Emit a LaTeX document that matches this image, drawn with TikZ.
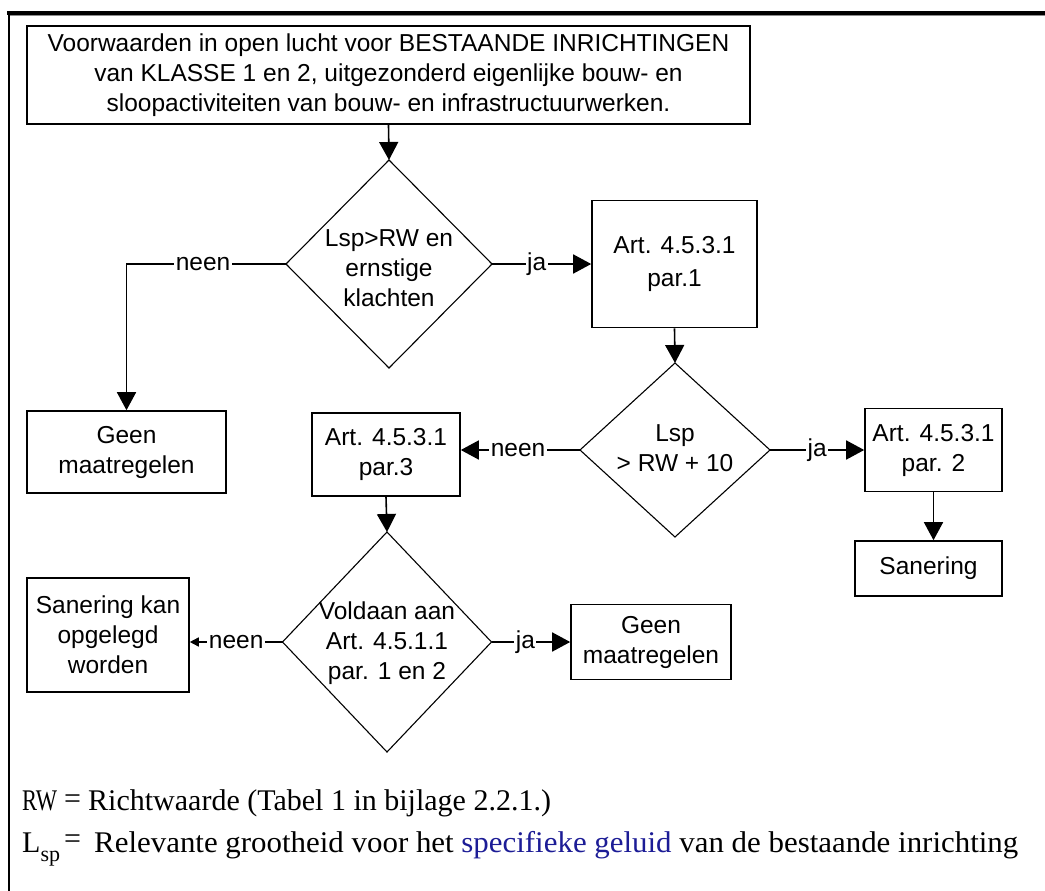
\documentclass[tikz,border=0pt]{standalone}
\usepackage{fontspec}
\setmainfont{Liberation Sans}
\newfontfamily\legendfont{Liberation Serif}
\usepackage{xcolor}
\usetikzlibrary{arrows.meta, shapes.geometric}

\begin{document}
\begin{tikzpicture}[
    x=1pt, y=-1pt,
    every node/.style={font=\fontsize{24.5}{30}\selectfont, align=center, text=black},
    box/.style={
      rectangle, draw=black, fill=white, line width=1.6pt, inner sep=0pt
    },
    decision/.style={
      diamond, draw=black, line width=1.1pt, inner sep=0pt, outer sep=0pt
    },
    lbl/.style={fill=white, inner sep=1.5pt},
    legend/.style={font=\legendfont\fontsize{30}{34}\selectfont, anchor=base west, inner sep=0pt},
    arr/.style={-{Triangle[length=18pt, width=19pt]}, draw=black, line width=1.6pt},
    arrSmall/.style={-{Triangle[length=9pt, width=9pt]}, draw=black, line width=1.6pt}
  ]
    \definecolor{keyBlue}{RGB}{28,28,150}

    \fill[white] (0,0) rectangle (1045,891);
    \useasboundingbox (0,0) rectangle (1045,891);
    \draw[black!45, line width=1pt] (10,16) -- (1045,16);
    \draw[line width=4pt] (7,13) -- (1045,13);
    \draw[line width=2.5pt] (9,11) -- (9,891);

    \node[box, minimum width=723pt, minimum height=98pt] (start) at (388.5,75)
      {Voorwaarden in open lucht voor BESTAANDE INRICHTINGEN\\
       van KLASSE 1 en 2, uitgezonderd eigenlijke bouw- en\\
       sloopactiviteiten van bouw- en infrastructuurwerken.};

    \node[decision, minimum width=206pt, minimum height=208pt] (klacht) at (389,264) {};
    \node (klachtTxt) at (389,268) {Lsp>RW en\\ ernstige\\ klachten};

    \node[box, minimum width=199pt, minimum height=82pt] (geenA) at (126.5,452) {Geen\\ maatregelen};
    \node[box, minimum width=165pt, minimum height=127pt] (artPar1) at (674.5,264) {Art. 4.5.3.1\\[3pt] par.1};

    \node[decision, minimum width=190pt, minimum height=174pt] (tien) at (675,450) {};
    \node (tienTxt) at (675,448) {Lsp\\ > RW + 10};

    \node[box, minimum width=148pt, minimum height=83pt] (artPar3) at (386,454.5) {Art. 4.5.3.1\\ par.3};
    \node[box, minimum width=137pt, minimum height=83pt] (artPar2) at (933.5,450) {Art. 4.5.3.1\\ par. 2};
    \node[box, minimum width=147pt, minimum height=55pt] (sanering) at (928.5,568.5) {Sanering};

    \node[decision, minimum width=209pt, minimum height=220pt] (voldaan) at (387,642) {};
    \node (voldaanTxt) at (387,643) {Voldaan aan\\ Art. 4.5.1.1\\ par. 1 en 2};

    \node[box, minimum width=162pt, minimum height=114pt] (sanKan) at (108,635) {Sanering kan\\ opgelegd\\ worden};
    \node[box, minimum width=160pt, minimum height=75pt] (geenB) at (651,642) {Geen\\ maatregelen};

    \draw[arr] (start.south) -- (klacht.north);
    \draw[arr] (klacht.west) -| node[lbl, pos=0.26] {neen} (geenA.north);
    \draw[arr] (klacht.east) -- node[lbl, pos=0.45] {ja} (artPar1.west);
    \draw[arr] (artPar1.south) -- (tien.north);
    \draw[arr] (tien.east) -- node[lbl, pos=0.5] {ja} (artPar2.west);
    \draw[arr] (tien.west) -- node[lbl, pos=0.52] {neen} (tien.west -| artPar3.east);
    \draw[arr] (artPar2.south) -- (artPar2.south |- sanering.north);
    \draw[arr] (artPar3.south) -- (voldaan.north);
    \draw[arrSmall] (voldaan.west) -- node[lbl, pos=0.5] {neen} (voldaan.west -| sanKan.east);
    \draw[arr] (voldaan.east) -- node[lbl, pos=0.43] {ja} (geenB.west);

    \node[legend] (rwKey) at (22,810) {\scalebox{0.75}[1]{RW}};
    \node[legend] (rwEq) at (64,808) {=};
    \node[legend] (rwDef) at (88,810) {Richtwaarde (Tabel 1 in bijlage 2.2.1.)};
    \node[legend] (lspKey) at (22,852) {L\raisebox{-9pt}{\fontsize{22}{22}\selectfont sp}};
    \node[legend] (lspEq) at (64,848) {=};
    \node[legend] (lspDef) at (94,852) {\scalebox{1.03}[1]{Relevante grootheid voor het \textcolor{keyBlue}{specifieke geluid} van de bestaande inrichting}};
  \end{tikzpicture}
\end{document}
